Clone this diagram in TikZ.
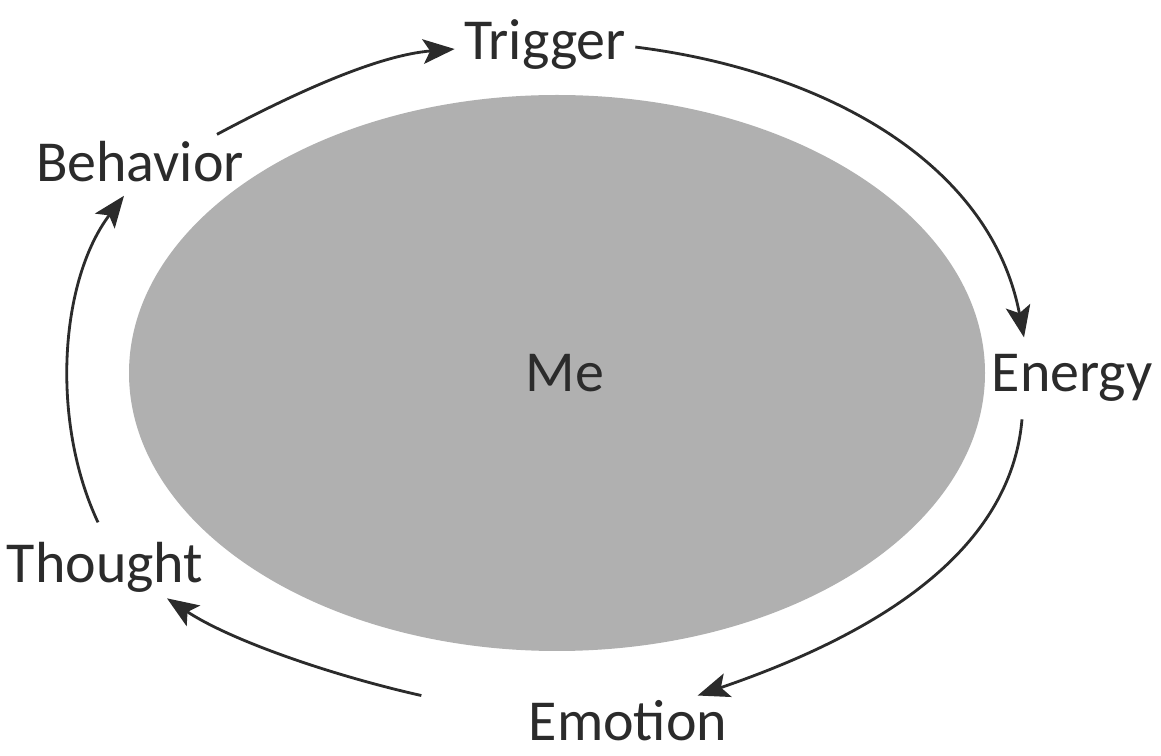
\documentclass[tikz,border=0pt]{standalone}
\usepackage{fontspec}
\setmainfont{Carlito}
\usepackage{tikz}
\usetikzlibrary{arrows.meta,positioning,calc}
\definecolor{mefill}{HTML}{B0B0B0}
\definecolor{inkdark}{HTML}{2B2B2B}
\tikzset{
  stage/.style={text=inkdark,font=\fontsize{33}{38}\selectfont,inner sep=4pt,anchor=base},
  cyclearrow/.style={-{Stealth[length=18pt,width=14pt,inset=4pt]},line width=1.6pt,draw=inkdark},
}
\begin{document}
\begin{tikzpicture}[x=0.02cm,y=0.02cm]
  \fill[white] (0,0) rectangle (1161,-756);
  \useasboundingbox (0,0) rectangle (1161,-756);
  \fill[mefill] (557,-373) ellipse [x radius=428,y radius=278];
  \node[stage] (me) at (565,-392) {Me};
  \node[stage] (trigger) at (545,-60) {Trigger};
  \node[stage] (energy) at (1072,-392) {Energy};
  \node[stage] (emotion) at (628,-741) {Emotion};
  \node[stage] (thought) at (105,-583) {Thought};
  \node[stage] (behavior) at (140,-182) {Behavior};
  \draw[cyclearrow] ($(behavior.north)+(77,0)$) .. controls (300,-90) and (380,-55) .. ($(trigger.west)+(-2,-4)$);
  \draw[cyclearrow] ($(trigger.east)+(2,-2)$) .. controls (820,-70) and (990,-160) .. ($(energy.north)+(-48,10)$);
  \draw[cyclearrow] ($(energy.south)+(-50,-10)$) .. controls (1010,-560) and (860,-640) .. ($(emotion.north east)+(-37,-2)$);
  \draw[cyclearrow] ($(emotion.north west)+(-100,-2)$) .. controls (330,-675) and (230,-640) .. ($(thought.south)+(62,2)$);
  \draw[cyclearrow] ($(thought.north)+(-7,13)$) .. controls (50,-420) and (60,-280) .. ($(behavior.south)+(-16,-6)$);
\end{tikzpicture}
\end{document}
